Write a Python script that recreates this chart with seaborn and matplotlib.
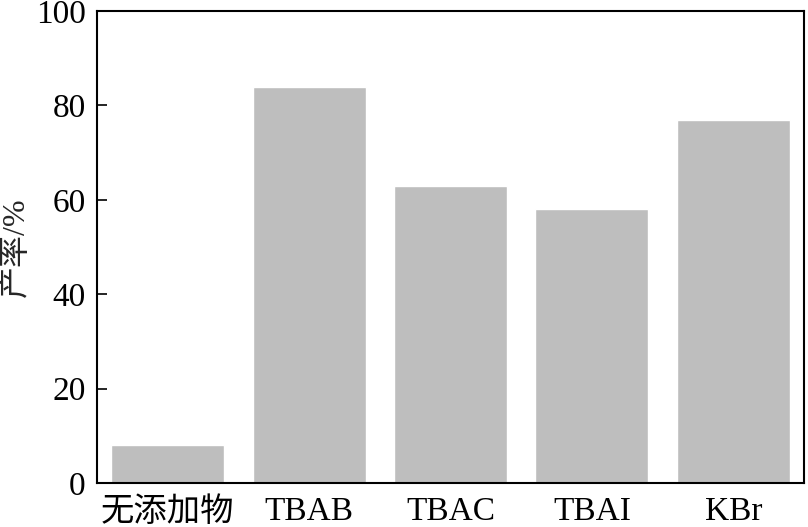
import matplotlib
matplotlib.use("Agg")
import matplotlib.pyplot as plt
import seaborn as sns
import pandas as pd

# データ
categories = ["无添加物", "TBAB", "TBAC", "TBAI", "KBr"]
yields = [8, 84, 63, 58, 77]

sns.set_theme(style="ticks")
plt.rcParams['font.family'] = ['Liberation Serif', 'Noto Sans CJK SC']
plt.rcParams['xtick.direction'] = 'in'
plt.rcParams['ytick.direction'] = 'in'

df = pd.DataFrame({"cat": categories, "val": yields})

fig = plt.figure(figsize=(8.08, 5.27), dpi=100)
ax = fig.add_axes([0.12, 0.0835, 0.875, 0.8955])
sns.barplot(data=df, x="cat", y="val", color="#bebebe", saturation=1,
            width=0.8, ax=ax)

ax.set_xlim(-0.5, 4.5)
ax.set_ylim(0, 100)
ax.set_yticks([0, 20, 40, 60, 80, 100])
ax.set_xlabel("")
ax.set_ylabel("产率/%", fontsize=23, labelpad=4)
ax.tick_params(axis="x", labelsize=24, length=7, width=1.2, colors="black", pad=10)
ax.tick_params(axis="y", labelsize=24, length=7, width=1.2, colors="black", pad=8)
for s in ax.spines.values():
    s.set_linewidth(1.5)
    s.set_color("black")

fig.savefig("out.png", dpi=100)
